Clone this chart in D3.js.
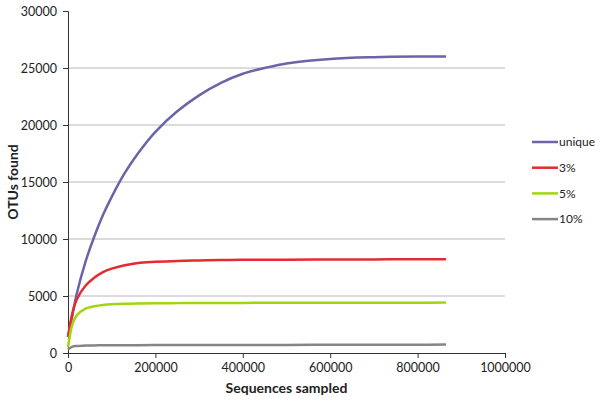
<!DOCTYPE html>
<head>
  <meta charset="utf-8">
  <script src="https://cdn.jsdelivr.net/npm/d3@7"></script>
  <style>
    body { margin: 0; background: white; }
    text { font-family: Lato, "Open Sans", sans-serif; fill: #222; }
    .grid line { stroke: #b8b8b8; stroke-width: 1; }
    .axis path, .axis line { stroke: #333; }
    .curve { fill: none; stroke-width: 2.5; }
  </style>
</head>
<body>
<script>
const W = 602, H = 403;
const M = {left: 68, right: 97, top: 11, bottom: 50};

// sequences sampled
const samples = [0, 10000, 20000, 40000, 60000, 80000, 100000, 130000, 160000, 200000,
  250000, 300000, 350000, 400000, 450000, 500000, 600000, 700000, 800000, 865000];

// OTUs found per cutoff
const unique = [1400, 3300, 5200, 8000, 10200, 12100, 13700, 15800, 17500, 19400,
  21200, 22600, 23700, 24500, 25000, 25400, 25800, 25950, 26000, 26000];
const pct3 = [1400, 3500, 4700, 5900, 6600, 7100, 7400, 7700, 7900, 8000,
  8080, 8120, 8150, 8170, 8180, 8190, 8200, 8210, 8220, 8230];
const pct5 = [500, 2500, 3300, 3900, 4100, 4220, 4280, 4320, 4340, 4360,
  4375, 4385, 4390, 4395, 4400, 4400, 4405, 4410, 4415, 4420];
const pct10 = [300, 560, 620, 650, 665, 675, 680, 685, 690, 695,
  698, 700, 702, 705, 708, 710, 715, 722, 730, 735];

const seriesNames = ["unique", "3%", "5%", "10%"];
const seriesColors = ["#6b64a6", "#e52a30", "#9fd70f", "#858585"];
const seriesValues = [unique, pct3, pct5, pct10];

const xTicks = [0, 200000, 400000, 600000, 800000, 1000000];
const yTicks = [0, 5000, 10000, 15000, 20000, 25000, 30000];

const svg = d3.select("body").append("svg")
  .attr("width", W)
  .attr("height", H);

const x = d3.scaleLinear().domain([0, 1000000]).range([M.left, W - M.right]);
const y = d3.scaleLinear().domain([0, 30000]).range([H - M.bottom, M.top]);

//gridlines
svg.append("g").attr("class", "grid")
  .selectAll("line")
  .data(yTicks.filter(d => d > 0 && d < 30000))
  .join("line")
  .attr("x1", x(0)).attr("x2", x(1000000))
  .attr("y1", d => y(d)).attr("y2", d => y(d));

//axes
svg.append("g").attr("class", "axis")
  .attr("transform", "translate(" + x(0) + ",0)")
  .call(d3.axisLeft(y).tickValues(yTicks).tickFormat(d3.format("d")).tickSizeOuter(0).tickSize(5).tickPadding(6))
  .selectAll("text").style("font-size", "12.5px");

svg.append("g").attr("class", "axis")
  .attr("transform", "translate(0," + y(0) + ")")
  .call(d3.axisBottom(x).tickValues(xTicks).tickFormat(d3.format("d")).tickSizeOuter(0).tickSize(5).tickPadding(5))
  .selectAll("text").style("font-size", "12.5px");

svg.selectAll(".axis text").style("font-family", "Lato, sans-serif").attr("fill", "#222");

//curves
const line = d3.line()
  .x((d, i) => x(samples[i]))
  .y(d => y(d))
  .curve(d3.curveCatmullRom.alpha(0.5));

svg.selectAll("path.curve")
  .data(seriesValues)
  .join("path")
  .attr("class", "curve")
  .attr("stroke", (d, i) => seriesColors[i])
  .attr("d", line);

//legend
const leg = svg.append("g").attr("transform", "translate(532,142)");
const item = leg.selectAll("g").data(seriesNames).join("g")
  .attr("transform", (d, i) => "translate(0," + i * 25.7 + ")");
item.append("line")
  .attr("x1", 0).attr("x2", 26)
  .attr("stroke", (d, i) => seriesColors[i])
  .attr("stroke-width", 2.5);
item.append("text")
  .attr("x", 27).attr("dy", "0.35em")
  .style("font-size", "12px")
  .text(d => d);

//axis titles
svg.append("text")
  .attr("transform", "translate(18," + ((M.top + H - M.bottom) / 2) + ") rotate(-90)")
  .attr("text-anchor", "middle")
  .style("font-size", "14px").style("font-weight", "bold")
  .text("OTUs found");

svg.append("text")
  .attr("x", (x(0) + x(1000000)) / 2).attr("y", 393)
  .attr("text-anchor", "middle")
  .style("font-size", "14px").style("font-weight", "bold")
  .text("Sequences sampled");
</script>
</body>
